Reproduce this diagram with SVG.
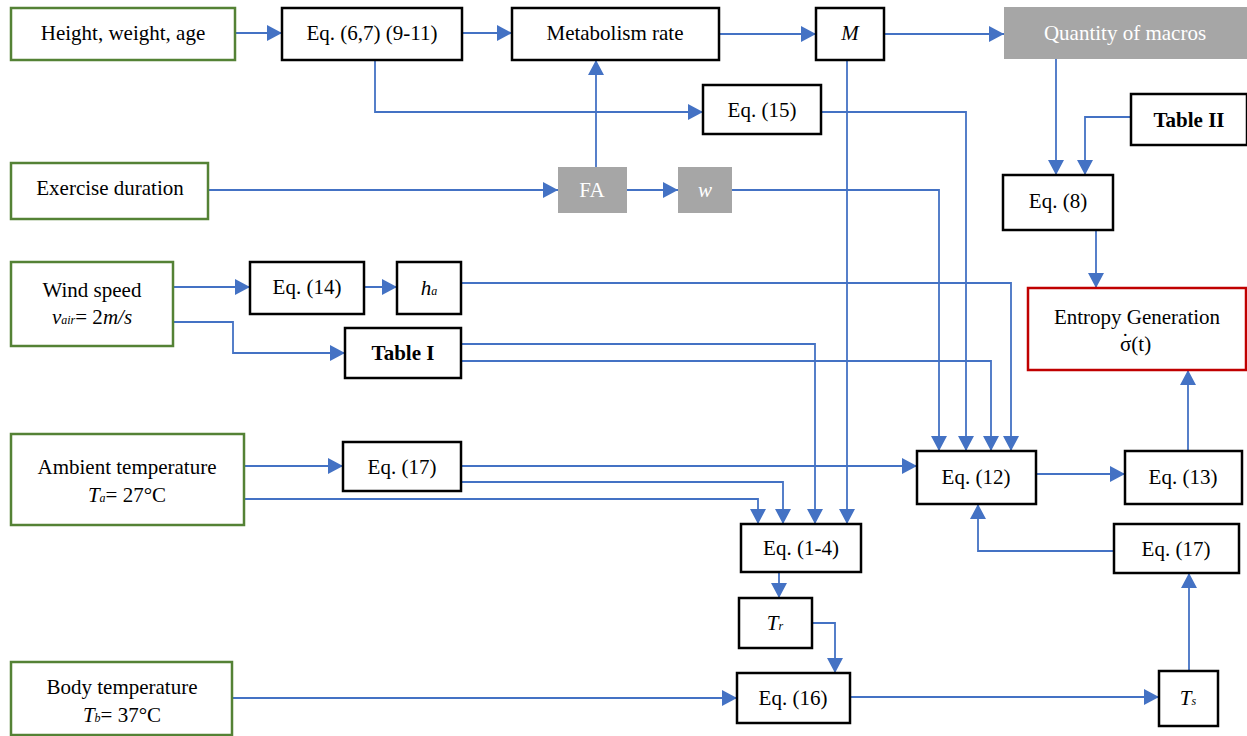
<svg xmlns="http://www.w3.org/2000/svg" width="1247" height="736" viewBox="0 0 1247 736">
<style>
.b{fill:#fff;stroke:#000;stroke-width:2.5}
.g{fill:#fff;stroke:#548235;stroke-width:2.5}
.r{fill:#fff;stroke:#c00000;stroke-width:2.5}
.gr{fill:#a6a6a6;stroke:none}
text{font-family:'Liberation Serif','DejaVu Serif',serif;font-size:21px;fill:#000;text-anchor:middle}
.w{fill:#fff}
.bd{font-weight:bold}
.i{font-style:italic}
.c path{fill:none;stroke:#4472c4;stroke-width:1.8;marker-end:url(#a)}
</style>
<defs>
<marker id="a" markerUnits="userSpaceOnUse" markerWidth="16" markerHeight="16" refX="15" refY="8" orient="auto"><path d="M0,0 L15,8 L0,16 z" fill="#4472c4"/></marker>
</defs>
<rect width="1247" height="736" fill="#fff"/>
<g class="c" id="connectors">
<path d="M235,33 H282"/>
<path d="M462,33 H512"/>
<path d="M719,34 H816"/>
<path d="M884,34 H1004"/>
<path d="M375,60 V112 H703"/>
<path d="M596,167 V60"/>
<path d="M208,190 H558"/>
<path d="M627,190 H678"/>
<path d="M732,190 H939 V451"/>
<path d="M821,112 H966 V451"/>
<path d="M461,283 H1011 V451"/>
<path d="M461,361 H991 V451"/>
<path d="M461,344 H815 V524"/>
<path d="M847,60 V524"/>
<path d="M461,466 H917"/>
<path d="M461,482 H783 V524"/>
<path d="M244,499 H758 V524"/>
<path d="M244,466 H343"/>
<path d="M173,287 H250"/>
<path d="M364,287 H397"/>
<path d="M173,322 H233 V353 H345"/>
<path d="M1056,59 V175"/>
<path d="M1131,117 H1085 V175"/>
<path d="M1096,230 V288"/>
<path d="M1188,451 V370"/>
<path d="M1036,474 H1125"/>
<path d="M1114,551 H978 V504"/>
<path d="M779,572 V598"/>
<path d="M812,623 H835 V673"/>
<path d="M232,698 H737"/>
<path d="M850,697 H1159"/>
<path d="M1189,671 V573"/>
</g>
<g font-family="Liberation Serif, DejaVu Serif, serif">
<g id="height"><rect class="g" x="11" y="8" width="224" height="52"/><text x="123" y="40">Height, weight, age</text></g>
<g id="eq6"><rect class="b" x="282" y="8" width="180" height="52"/><text x="372" y="40">Eq. (6,7) (9-11)</text></g>
<g id="metab"><rect class="b" x="512" y="8" width="207" height="52"/><text x="615" y="40">Metabolism rate</text></g>
<g id="M"><rect class="b" x="816" y="8" width="68" height="52"/><text class="i" x="850" y="40">M</text></g>
<g id="macros"><rect class="gr" x="1004" y="7" width="243" height="52"/><text class="w" x="1125" y="40">Quantity of macros</text></g>
<g id="eq15"><rect class="b" x="703" y="85" width="118" height="49"/><text x="762" y="117">Eq. (15)</text></g>
<g id="exercise"><rect class="g" x="11" y="163" width="197" height="56"/><text x="110" y="195">Exercise duration</text></g>
<g id="FA"><rect class="gr" x="558" y="167" width="69" height="46"/><text class="w" x="592" y="197">FA</text></g>
<g id="w"><rect class="gr" x="678" y="167" width="54" height="46"/><text class="w i" x="705" y="197">w</text></g>
<g id="table2"><rect class="b" x="1131" y="94" width="116" height="51"/><text class="bd" x="1189" y="127">Table II</text></g>
<g id="eq8"><rect class="b" x="1003" y="175" width="110" height="55"/><text x="1058" y="208">Eq. (8)</text></g>
<g id="entropy"><rect class="r" x="1028" y="288" width="218" height="82"/><text x="1137" y="324">Entropy Generation<tspan x="1120" dy="27" text-anchor="start">σ</tspan><tspan dx="-9.5" dy="-3">˙</tspan><tspan dx="2.5" dy="3">(t)</tspan></text></g>
<g id="wind"><rect class="g" x="11" y="262" width="162" height="84"/><text x="92" y="297">Wind speed</text><text x="92" y="324"><tspan class="i">v</tspan><tspan class="i" font-size="12">air</tspan>= 2<tspan class="i">m/s</tspan></text></g>
<g id="eq14"><rect class="b" x="250" y="262" width="114" height="52"/><text x="307" y="294">Eq. (14)</text></g>
<g id="ha"><rect class="b" x="397" y="262" width="64" height="52"/><text x="429" y="295"><tspan class="i">h</tspan><tspan class="i" font-size="12">a</tspan></text></g>
<g id="table1"><rect class="b" x="345" y="328" width="116" height="50"/><text class="bd" x="403" y="360">Table I</text></g>
<g id="ambient"><rect class="g" x="11" y="434" width="233" height="91"/><text x="127" y="474">Ambient temperature</text><text x="127" y="502"><tspan class="i">T</tspan><tspan class="i" font-size="12">a</tspan>= 27°C</text></g>
<g id="eq17a"><rect class="b" x="343" y="442" width="118" height="49"/><text x="402" y="474">Eq. (17)</text></g>
<g id="eq14b"><rect class="b" x="741" y="524" width="120" height="48"/><text x="801" y="555">Eq. (1-4)</text></g>
<g id="eq12"><rect class="b" x="917" y="451" width="119" height="53"/><text x="976" y="484">Eq. (12)</text></g>
<g id="eq13"><rect class="b" x="1125" y="451" width="117" height="53"/><text x="1183" y="484">Eq. (13)</text></g>
<g id="eq17b"><rect class="b" x="1114" y="524" width="125" height="49"/><text x="1176" y="556">Eq. (17)</text></g>
<g id="Tr"><rect class="b" x="739" y="598" width="73" height="50"/><text x="775" y="630"><tspan class="i">T</tspan><tspan class="i" font-size="12">r</tspan></text></g>
<g id="eq16"><rect class="b" x="737" y="673" width="113" height="50"/><text x="793" y="705">Eq. (16)</text></g>
<g id="Ts"><rect class="b" x="1159" y="671" width="59" height="55"/><text x="1188" y="705"><tspan class="i">T</tspan><tspan class="i" font-size="12">s</tspan></text></g>
<g id="body"><rect class="g" x="11" y="662" width="221" height="73"/><text x="122" y="694">Body temperature</text><text x="122" y="722"><tspan class="i">T</tspan><tspan class="i" font-size="12">b</tspan>= 37°C</text></g>
</g>
</svg>
